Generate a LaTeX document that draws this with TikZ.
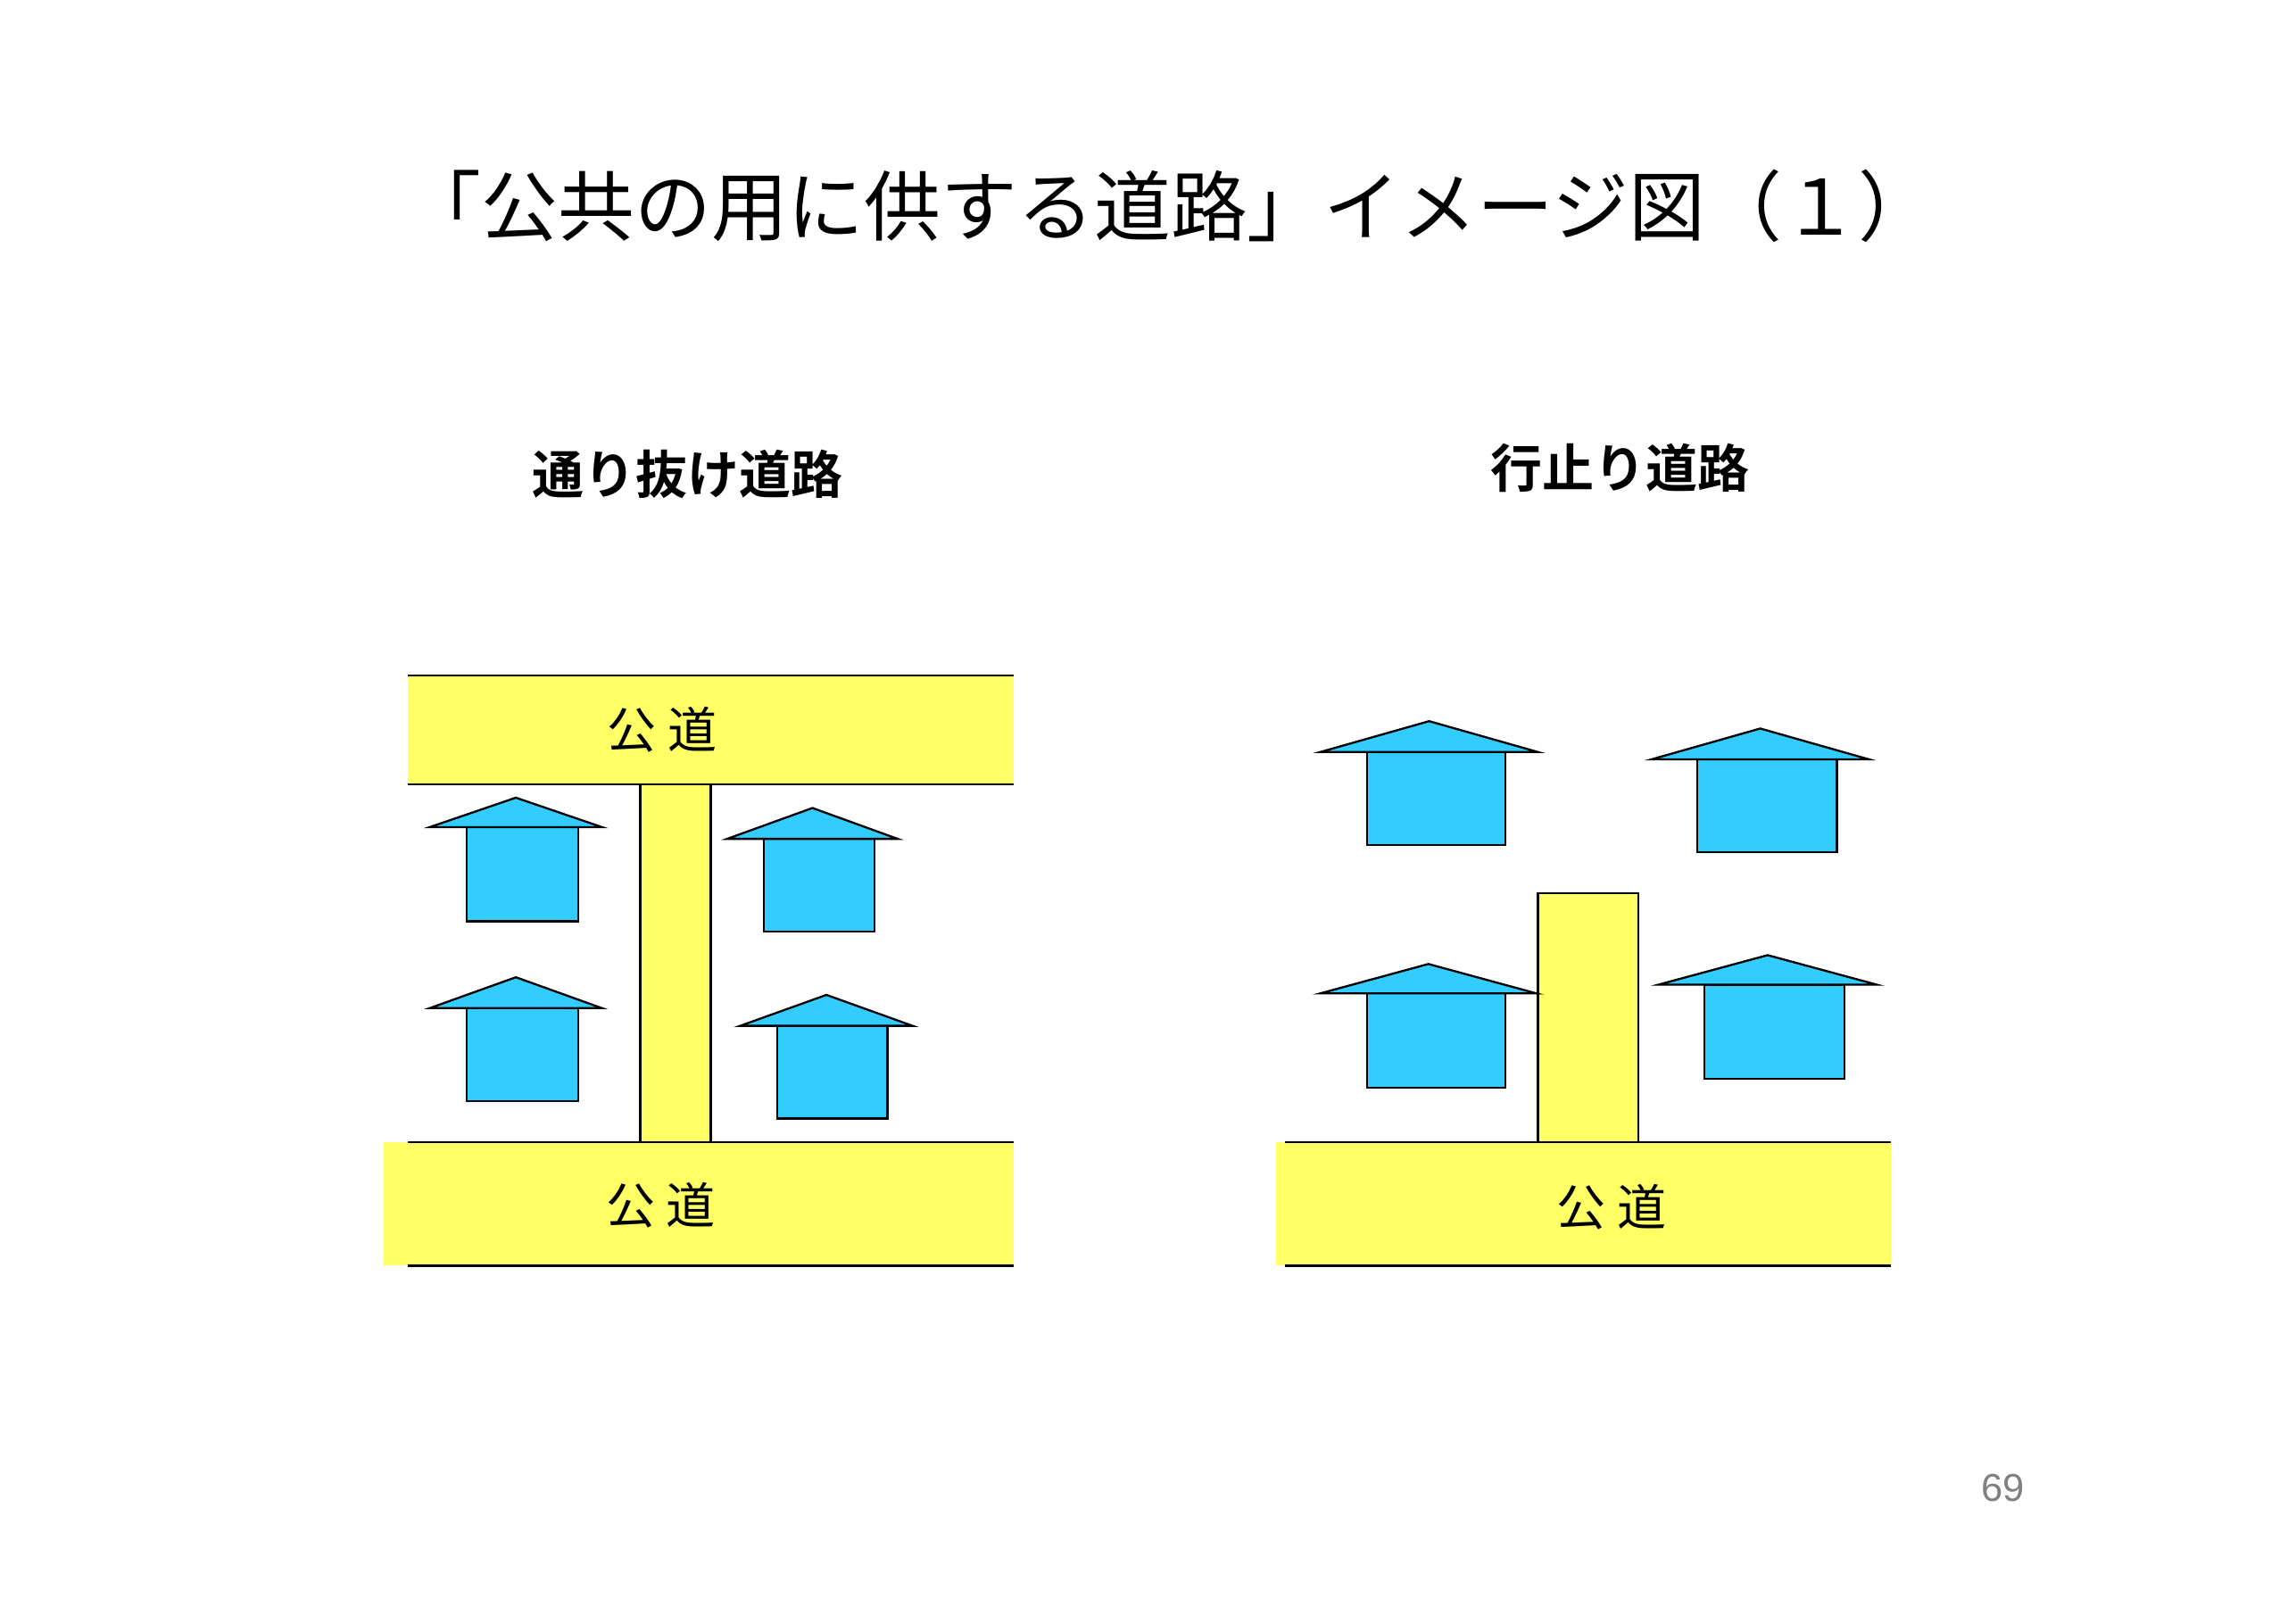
\documentclass[tikz,border=0pt]{standalone}
\usepackage{fontspec}
\newfontfamily\jp{Noto Sans CJK JP}
\newfontfamily\jpb{Noto Sans CJK JP Bold}
\setsansfont{Liberation Sans}
\tikzset{
  road/.style={fill=roadyellow,draw=none},
  roof/.style={fill=houseblue,draw=black,line join=miter},
  body/.style={fill=houseblue,draw=black},
  roadlabel/.style={font=\jp\fontsize{9.5pt}{11pt}\selectfont},
}
\definecolor{roadyellow}{HTML}{FFFF66}
\definecolor{houseblue}{HTML}{33CCFF}
% house: roof left, roof right, roof base y, apex y, body left, body right, body bottom
\newcommand\house[7]{%
  \draw[body] (#5,#3) rectangle (#6,#7);
  \draw[roof] (#1,#3) -- ({(#1+#2)/2},#4) -- (#2,#3) -- cycle;
}
\begin{document}
\begin{tikzpicture}[x=0.01cm,y=-0.01cm]
\useasboundingbox (0,0) rectangle (1560,1103);

% Title
\node[font=\jp\fontsize{14.8pt}{17pt}\selectfont] (title) at (795,140) {「公共の用に供する道路」イメージ図（１）};

% Headings
\node[font=\jpb\fontsize{10pt}{12pt}\selectfont] (thru) at (467,322) {通り抜け道路};
\node[font=\jpb\fontsize{10pt}{12pt}\selectfont] (dead) at (1101,318) {行止り道路};

% Left: through road
\fill[road] (277,459) rectangle (689,533);
\draw (277,459) -- (689,459) (277,533) -- (689,533);
\fill[road] (261,776) rectangle (689,860);
\draw (277,776) -- (689,776) (277,860) -- (689,860);
\draw[road,draw=black] (435,533) rectangle (483,776);
\node[roadlabel] (topL) at (450,496) {公\ 道};
\node[roadlabel] (botL) at (449,819) {公\ 道};

\house{292}{409}{562}{542}{317}{393}{626}
\house{292}{409}{685}{664}{317}{393}{748}
\house{494}{610}{570}{549}{519}{594}{633}
\house{503}{620}{697}{676}{528}{603}{760}

% Right: dead-end road
\fill[road] (867,776) rectangle (1285,860);
\draw (873,776) -- (1285,776) (873,860) -- (1285,860);
\draw[road,draw=black] (1045,607) rectangle (1113,776);
\node[roadlabel] (botR) at (1095,820) {公\ 道};

\house{897}{1045}{511}{490}{929}{1023}{574}
\house{1122}{1270}{516}{495}{1153}{1248}{579}
\house{897}{1044}{675}{655}{929}{1023}{739}
\house{1127}{1275}{669}{649}{1158}{1253}{733}

% Page number
\node[font=\sffamily\fontsize{7.5pt}{9pt}\selectfont,text=gray] (page) at (1361,1011) {69};
\end{tikzpicture}
\end{document}
